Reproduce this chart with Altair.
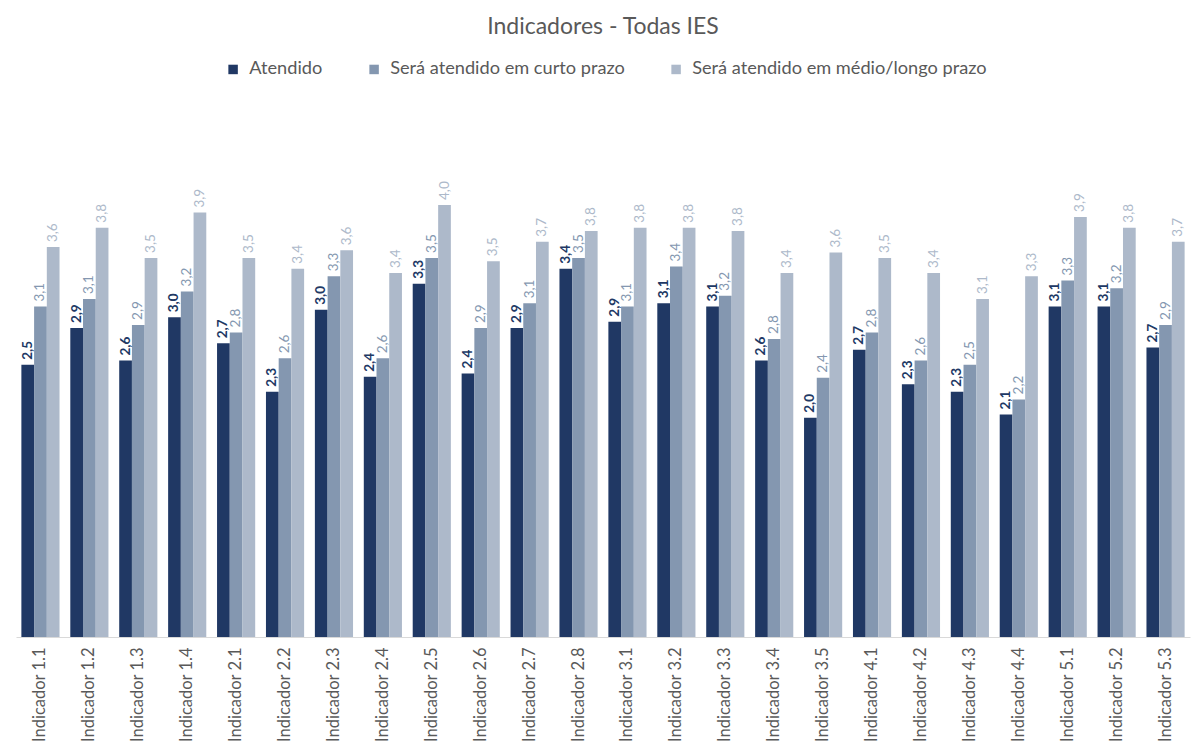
import altair as alt
import pandas as pd

indicadores = ["Indicador 1.1", "Indicador 1.2", "Indicador 1.3", "Indicador 1.4",
               "Indicador 2.1", "Indicador 2.2", "Indicador 2.3", "Indicador 2.4",
               "Indicador 2.5", "Indicador 2.6", "Indicador 2.7", "Indicador 2.8",
               "Indicador 3.1", "Indicador 3.2", "Indicador 3.3", "Indicador 3.4",
               "Indicador 3.5", "Indicador 4.1", "Indicador 4.2", "Indicador 4.3",
               "Indicador 4.4", "Indicador 5.1", "Indicador 5.2", "Indicador 5.3"]

series = ["Atendido", "Será atendido em curto prazo", "Será atendido em médio/longo prazo"]

atendido = [2.52, 2.86, 2.56, 2.96, 2.72, 2.27, 3.03, 2.41, 3.27, 2.44, 2.86, 3.41,
            2.92, 3.09, 3.06, 2.56, 2.03, 2.66, 2.34, 2.27, 2.06, 3.06, 3.06, 2.68]
curto = [3.06, 3.13, 2.89, 3.20, 2.82, 2.58, 3.34, 2.58, 3.51, 2.86, 3.09, 3.51,
         3.06, 3.43, 3.16, 2.76, 2.40, 2.82, 2.56, 2.52, 2.20, 3.30, 3.23, 2.89]
medio = [3.61, 3.79, 3.51, 3.93, 3.51, 3.41, 3.58, 3.37, 4.00, 3.48, 3.66, 3.76,
         3.79, 3.79, 3.76, 3.37, 3.56, 3.51, 3.37, 3.13, 3.34, 3.89, 3.79, 3.66]

cores = ["#203864", "#8497B0", "#ADB9CA"]

rows = []
for vals, s in zip([atendido, curto, medio], series):
    for ind, v in zip(indicadores, vals):
        rows.append({"indicador": ind, "serie": s, "valor": v})
df = pd.DataFrame(rows)

FONT = "Lato"
GRAY = "#595959"

base = alt.Chart(df).encode(
    x=alt.X("indicador:N", sort=indicadores,
            scale=alt.Scale(paddingInner=0.22, paddingOuter=0.11),
            axis=alt.Axis(title=None, labelAngle=-90, labelFontSize=16.5, labelFont=FONT,
                          labelColor=GRAY, ticks=False, domainColor="#D9D9D9",
                          labelPadding=10, labelBaseline="middle")),
    xOffset=alt.XOffset("serie:N", sort=series),
    y=alt.Y("valor:Q", scale=alt.Scale(domain=[0, 4.5], nice=False), axis=None),
    color=alt.Color("serie:N", sort=series,
                    scale=alt.Scale(domain=series, range=cores),
                    legend=alt.Legend(title=None, orient="none", direction="horizontal",
                                      legendX=208, legendY=-91, symbolType="square",
                                      symbolSize=90, symbolStrokeWidth=0,
                                      labelFontSize=18.2, labelFont=FONT, labelColor=GRAY,
                                      labelLimit=500,
                                      columnPadding=42, labelOffset=7, padding=0)),
)

bars = base.mark_bar()

lab = base.transform_calculate(
    rotulo="replace(format(datum.valor, '.1f'), '.', ',')"
)

labels_a = lab.transform_filter(alt.datum.serie == "Atendido").mark_text(
    angle=270, align="left", baseline="middle", dx=5, fontSize=13.5, font=FONT,
    fontWeight="bold"
).encode(text="rotulo:N", color=alt.Color("serie:N", sort=series, legend=None))

labels_o = lab.transform_filter(alt.datum.serie != "Atendido").mark_text(
    angle=270, align="left", baseline="middle", dx=5, fontSize=13.5, font=FONT
).encode(text="rotulo:N", color=alt.Color("serie:N", sort=series, legend=None))

chart = alt.layer(bars, labels_a, labels_o).properties(
    width=1174, height=486,
    title=alt.TitleParams("Indicadores - Todas IES", fontSize=23, font=FONT,
                          fontWeight="normal", color=GRAY, anchor="middle",
                          frame="group", offset=21),
    autosize=alt.AutoSizeParams(type="none"),
    padding={"left": 8, "top": 143, "right": 4, "bottom": 106},
).configure(background="white").configure_view(strokeWidth=0)

chart.save("out.html", embed_options={"renderer": "svg", "actions": False})
